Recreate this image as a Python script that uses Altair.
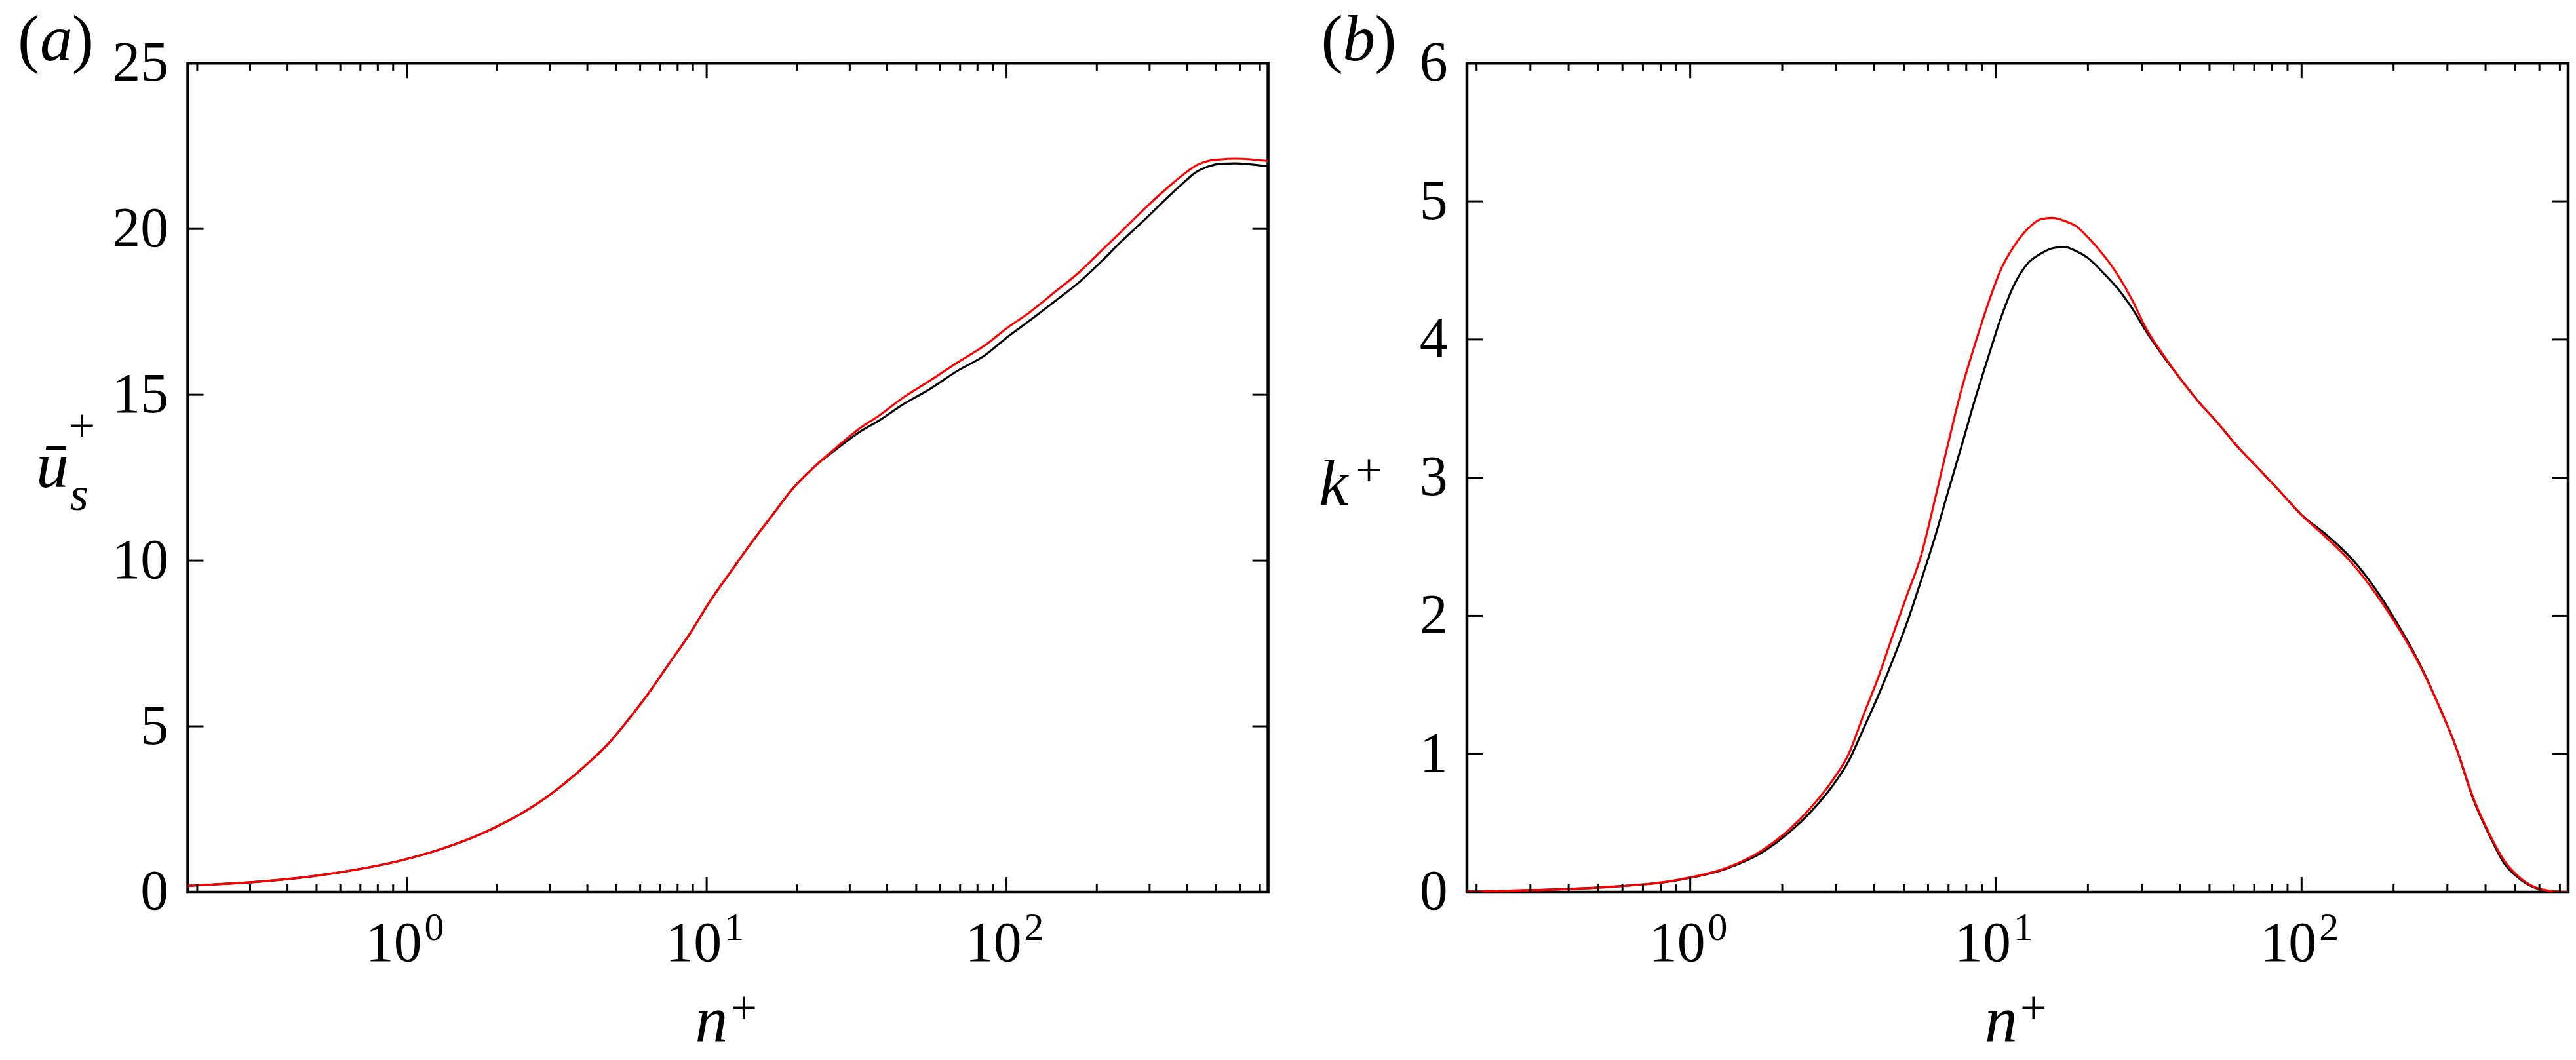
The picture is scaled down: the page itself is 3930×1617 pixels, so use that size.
import altair as alt
import pandas as pd

FONT = "Liberation Serif"

# ---------------- data ----------------
n_a = [0.186, 0.56, 0.94, 1.33, 1.71, 2.1, 2.5, 2.9, 3.4, 4.0, 4.7, 5.5, 6.4, 7.5, 8.8,
       10.3, 12, 14, 16.5, 19.5, 23, 27, 32, 38, 45, 55, 68, 85, 100, 120, 145, 175,
       205, 240, 288, 340, 390, 430, 470, 520, 580, 650, 745]
u_red = [0.19, 0.56, 0.94, 1.33, 1.70, 2.08, 2.46, 2.84, 3.32, 3.87, 4.48, 5.22, 6.0, 6.9, 7.8,
         8.8, 9.65, 10.5, 11.35, 12.2, 12.85, 13.4, 13.95, 14.4, 14.9, 15.4, 15.95, 16.5, 17.0,
         17.5, 18.1, 18.7, 19.3, 19.9, 20.6, 21.2, 21.65, 21.92, 22.05, 22.1, 22.12, 22.1, 22.05]
u_black = [0.19, 0.56, 0.94, 1.33, 1.70, 2.08, 2.46, 2.84, 3.32, 3.87, 4.48, 5.22, 6.0, 6.9, 7.8,
           8.8, 9.65, 10.5, 11.35, 12.2, 12.85, 13.35, 13.85, 14.25, 14.7, 15.15, 15.7, 16.2,
           16.72, 17.25, 17.82, 18.4, 18.98, 19.6, 20.27, 20.9, 21.4, 21.72, 21.88, 21.97,
           21.98, 21.95, 21.89]

n_b = [0.186, 0.56, 0.94, 1.33, 1.71, 2.1, 2.5, 2.9, 3.3, 3.7, 4.1, 4.6, 5.1, 5.7, 6.3, 7.0,
       7.7, 8.5, 9.4, 10.4, 11.5, 12.7, 14.0, 15.3, 16.7, 18.3, 20, 22.5, 25, 28, 31, 35, 40,
       46, 53, 62, 72, 85, 100, 120, 145, 175, 205, 240, 280, 320, 365, 410, 460, 515, 575,
       640, 700, 745]
k_red = [0.005, 0.04, 0.095, 0.18, 0.30, 0.45, 0.62, 0.80, 1.0, 1.29, 1.54, 1.86, 2.14, 2.44,
         2.83, 3.26, 3.63, 3.95, 4.25, 4.51, 4.68, 4.80, 4.87, 4.88, 4.86, 4.82, 4.74, 4.61,
         4.47, 4.28, 4.08, 3.90, 3.72, 3.55, 3.40, 3.22, 3.07, 2.90, 2.73, 2.57, 2.39, 2.16,
         1.93, 1.67, 1.36, 1.05, 0.68, 0.43, 0.23, 0.11, 0.04, 0.012, 0.003, 0.002]
k_black = [0.005, 0.04, 0.093, 0.175, 0.285, 0.43, 0.59, 0.76, 0.95, 1.19, 1.41, 1.68, 1.94,
           2.26, 2.56, 2.91, 3.22, 3.55, 3.86, 4.16, 4.40, 4.55, 4.62, 4.66, 4.67, 4.64, 4.59,
           4.48, 4.37, 4.22, 4.06, 3.89, 3.72, 3.55, 3.40, 3.22, 3.07, 2.90, 2.73, 2.59, 2.42,
           2.19, 1.95, 1.68, 1.36, 1.05, 0.67, 0.42, 0.21, 0.10, 0.035, 0.01, 0.003, 0.002]

x_domain = [0.186, 745]
x_major = [1, 10, 100]
x_major_base = ["10", "10", "10"]
x_major_exp = ["0", "1", "2"]
x_minor = [0.2, 0.3, 0.4, 0.5, 0.6, 0.7, 0.8, 0.9,
           2, 3, 4, 5, 6, 7, 8, 9,
           20, 30, 40, 50, 60, 70, 80, 90,
           200, 300, 400, 500, 600, 700]
y_ticks_a = [0, 5, 10, 15, 20, 25]
y_ticks_b = [0, 1, 2, 3, 4, 5, 6]

H = 1267
W_A = 1651
W_B = 1683


def txt(text, size, italic=False, align="left", baseline="alphabetic"):
    kw = dict(font=FONT, fontSize=size, color="black", align=align, baseline=baseline)
    if italic:
        kw["fontStyle"] = "italic"
    return alt.Chart(pd.DataFrame({"s": [text]})).mark_text(**kw)


def panel(n, black, red, yticks, ydom, W, panel_parts, ytitle_layers):
    xs = alt.Scale(type="log", domain=x_domain, nice=False)
    ys = alt.Scale(domain=ydom, nice=False, zero=False)
    yaxis = alt.Axis(values=yticks, ticks=False, tickSize=0, domain=False, grid=False,
                     labelFont=FONT, labelFontSize=86, labelColor="black",
                     labelPadding=30, title=None)
    df_b = pd.DataFrame({"n": n, "v": black})
    df_r = pd.DataFrame({"n": n, "v": red})
    line_kw = dict(strokeWidth=3.2, clip=True, interpolate="monotone")
    l_black = alt.Chart(df_b).mark_line(color="#000000", **line_kw).encode(
        x=alt.X("n:Q", scale=xs, axis=None),
        y=alt.Y("v:Q", scale=ys, axis=yaxis))
    l_red = alt.Chart(df_r).mark_line(color="#ff0000", **line_kw).encode(
        x=alt.X("n:Q", scale=xs, axis=None),
        y=alt.Y("v:Q", scale=ys, axis=yaxis))

    tick_kw = dict(color="black", strokeWidth=3, strokeCap="butt")
    dmaj = pd.DataFrame({"t": x_major, "b": x_major_base, "e": x_major_exp})
    dmin = pd.DataFrame({"t": x_minor})
    dy = pd.DataFrame({"t": yticks})
    layers = [l_black, l_red]
    for d, L in ((dmaj, 23), (dmin, 12)):
        layers.append(alt.Chart(d).mark_rule(**tick_kw).encode(
            x=alt.X("t:Q", scale=xs, axis=None), y=alt.value(H), y2=alt.value(H - L)))
        layers.append(alt.Chart(d).mark_rule(**tick_kw).encode(
            x=alt.X("t:Q", scale=xs, axis=None), y=alt.value(0), y2=alt.value(L)))
    layers.append(alt.Chart(dy).mark_rule(**tick_kw).encode(
        y=alt.Y("t:Q", scale=ys, axis=yaxis), x=alt.value(0), x2=alt.value(24)))
    layers.append(alt.Chart(dy).mark_rule(**tick_kw).encode(
        y=alt.Y("t:Q", scale=ys, axis=yaxis), x=alt.value(W), x2=alt.value(W - 24)))
    # x tick labels 10^k
    layers.append(alt.Chart(dmaj).mark_text(font=FONT, fontSize=86, align="right",
                                            baseline="alphabetic", dx=23, color="black").encode(
        x=alt.X("t:Q", scale=xs, axis=None), y=alt.value(H + 105), text="b:N"))
    layers.append(alt.Chart(dmaj).mark_text(font=FONT, fontSize=60, align="left",
                                            baseline="alphabetic", dx=27, color="black").encode(
        x=alt.X("t:Q", scale=xs, axis=None), y=alt.value(H + 73), text="e:N"))
    # x title n+
    layers.append(txt("n", 100, italic=True, align="right").encode(
        x=alt.value(W / 2), y=alt.value(H + 227), text="s:N"))
    layers.append(txt("+", 72).encode(
        x=alt.value(W / 2 + 4), y=alt.value(H + 200), text="s:N"))
    # panel label
    for s, xpos, it in panel_parts:
        layers.append(txt(s, 100, italic=it).encode(
            x=alt.value(xpos), y=alt.value(-4), text="s:N"))
    for s, size, it, xpos, ypos in ytitle_layers:
        layers.append(txt(s, size, italic=it).encode(
            x=alt.value(xpos), y=alt.value(ypos), text="s:N"))
    return alt.layer(*layers).properties(width=W, height=H)


pa = panel(n_a, u_black, u_red, y_ticks_a, [0, 25], W_A,
           [("(", -260, False), ("a", -226, True), (")", -177, False)],
           [("ū", 100, True, -232, 648), ("+", 72, False, -182, 578), ("s", 72, True, -180, 683)])
pb = panel(n_b, k_black, k_red, y_ticks_b, [0, 6], W_B,
           [("(", -223, False), ("b", -190, True), (")", -141, False)],
           [("k", 100, True, -226, 675), ("+", 72, False, -170, 646)])

chart = alt.hconcat(pa, pb, spacing=304, bounds="flush").properties(
    padding={"left": 16, "top": 0, "right": 0, "bottom": 0}
).configure(
    background="white",
    view=alt.ViewConfig(stroke="black", strokeWidth=4.5),
)

chart.save("out.html", embed_options={"renderer": "svg", "actions": False})
